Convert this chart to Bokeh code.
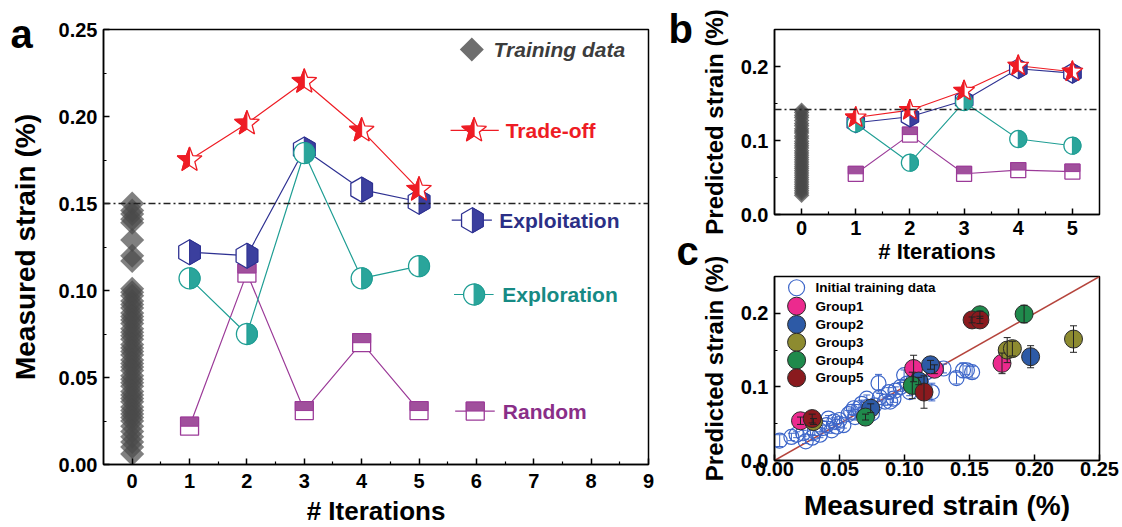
import math
from bokeh.plotting import figure
from bokeh.models import (Range1d, FixedTicker, NumeralTickFormatter, Label, Span, Slope,
                          ColumnDataSource, Whisker, TeeHead, Title)
from bokeh.layouts import row, column
from bokeh.embed import file_html
from bokeh.resources import INLINE

FONT = "Liberation Sans"

# ---------------- data ----------------
iterations = [1, 2, 3, 4, 5]

# panel a : measured strain (%)
a_tradeoff = [0.175, 0.196, 0.220, 0.192, 0.158]
a_exploit = [0.122, 0.120, 0.181, 0.158, 0.151]
a_explore = [0.107, 0.075, 0.179, 0.107, 0.114]
a_random = [0.022, 0.110, 0.031, 0.070, 0.031]
a_training = [0.150, 0.146, 0.144, 0.141, 0.139, 0.129, 0.120, 0.117, 0.101, 0.099,
              0.097, 0.094, 0.092, 0.090, 0.087, 0.085, 0.083, 0.081, 0.078, 0.076,
              0.074, 0.072, 0.069, 0.067, 0.065, 0.063, 0.060, 0.058, 0.056, 0.054,
              0.051, 0.049, 0.047, 0.045, 0.042, 0.040, 0.038, 0.036, 0.033, 0.031,
              0.029, 0.027, 0.025, 0.022, 0.019, 0.016, 0.013, 0.010, 0.006]
a_threshold = 0.15

# panel b : predicted strain (%)
b_tradeoff = [0.131, 0.141, 0.167, 0.201, 0.193]
b_exploit = [0.124, 0.132, 0.154, 0.197, 0.191]
b_explore = [0.123, 0.070, 0.152, 0.102, 0.093]
b_random = [0.055, 0.108, 0.055, 0.060, 0.058]
b_training = [0.141, 0.138, 0.134, 0.131, 0.127, 0.123, 0.120, 0.116, 0.113, 0.110,
              0.106, 0.103, 0.099, 0.096, 0.093, 0.090, 0.086, 0.083, 0.080, 0.077,
              0.074, 0.071, 0.068, 0.065, 0.062, 0.059, 0.056, 0.053, 0.050, 0.047,
              0.044, 0.041, 0.038, 0.035, 0.032, 0.029, 0.026]
b_threshold = 0.142

# panel c : initial training data (measured, predicted, error)
c_init_x = [0.004, 0.013, 0.017, 0.022, 0.024, 0.029, 0.031, 0.035, 0.037, 0.040,
            0.0415, 0.044, 0.046, 0.048, 0.050, 0.053, 0.057, 0.059, 0.061, 0.062,
            0.065, 0.067, 0.070, 0.071, 0.072, 0.075, 0.077, 0.080, 0.081, 0.085,
            0.088, 0.089, 0.0915, 0.093, 0.097, 0.0997, 0.102, 0.104, 0.107, 0.1095,
            0.1126, 0.117, 0.121, 0.130, 0.140, 0.145, 0.148, 0.152]
c_init_y = [0.027, 0.032, 0.035, 0.037, 0.026, 0.031, 0.039, 0.035, 0.044, 0.048,
            0.057, 0.041, 0.053, 0.046, 0.055, 0.048, 0.063, 0.066, 0.071, 0.059,
            0.071, 0.077, 0.066, 0.084, 0.073, 0.064, 0.075, 0.105, 0.086, 0.080,
            0.093, 0.080, 0.084, 0.095, 0.100, 0.116, 0.1045, 0.093, 0.109, 0.100,
            0.107, 0.120, 0.093, 0.125, 0.112, 0.1225, 0.1225, 0.120]
c_init_err = [0.008, 0.005, 0.004, 0.004, 0.003, 0.004, 0.005, 0.004, 0.004, 0.005,
              0.004, 0.004, 0.005, 0.004, 0.005, 0.004, 0.005, 0.004, 0.005, 0.004,
              0.005, 0.005, 0.004, 0.005, 0.005, 0.006, 0.005, 0.012, 0.005, 0.005,
              0.006, 0.004, 0.005, 0.005, 0.006, 0.007, 0.006, 0.005, 0.006, 0.006,
              0.007, 0.006, 0.012, 0.006, 0.008, 0.010, 0.006, 0.008]

group_names = ["Group1", "Group2", "Group3", "Group4", "Group5"]
group_meas = [[0.020, 0.107, 0.123, 0.175],
              [0.074, 0.111, 0.120, 0.197],
              [0.030, 0.179, 0.183, 0.230],
              [0.070, 0.106, 0.158, 0.192],
              [0.029, 0.115, 0.152, 0.158]]
group_pred = [[0.054, 0.125, 0.124, 0.132],
              [0.071, 0.108, 0.130, 0.141],
              [0.053, 0.150, 0.152, 0.165],
              [0.059, 0.102, 0.198, 0.199],
              [0.057, 0.093, 0.191, 0.191]]
group_err = [[0.005, 0.018, 0.006, 0.014],
             [0.006, 0.005, 0.006, 0.015],
             [0.004, 0.017, 0.010, 0.018],
             [0.004, 0.018, 0.005, 0.012],
             [0.006, 0.022, 0.004, 0.005]]

# ---------------- styles ----------------
C_TRADE, F_TRADE = "#ee1c24", "#ee1c24"
C_EXPLOIT, F_EXPLOIT = "#2e3192", "#3b3f9e"
C_EXPLORE, F_EXPLORE = "#1f9e94", "#2aa59b"
C_RANDOM, F_RANDOM = "#9b3a98", "#a0509c"
T_EXPLOIT, T_EXPLORE, T_RANDOM = "#2b2f86", "#168a84", "#8a2e88"
GROUP_COLORS = ["#ec2a8e", "#2d5aa6", "#8d8b30", "#1f8a4c", "#8a1a1e"]
INIT_COLOR = "#3d66c9"


def star_verts(R, r):
    pts = []
    for k in range(10):
        ang = math.pi / 2 + k * math.pi / 5
        rad = R if k % 2 == 0 else r
        pts.append((rad * math.cos(ang), rad * math.sin(ang)))
    return pts, pts[0:6]


def hex_verts(R):
    pts = [(R * math.cos(math.pi / 2 + k * math.pi / 3), R * math.sin(math.pi / 2 + k * math.pi / 3))
           for k in range(6)]
    return pts, [pts[0], pts[5], pts[4], pts[3]]


def circle_verts(r, n=40):
    pts = [(r * math.cos(2 * math.pi * k / n), r * math.sin(2 * math.pi * k / n)) for k in range(n)]
    half = [(r * math.cos(-math.pi / 2 + math.pi * k / (n // 2)),
             r * math.sin(-math.pi / 2 + math.pi * k / (n // 2))) for k in range(n // 2 + 1)]
    return pts, half


def square_verts(h):
    return [(-h, -h), (h, -h), (h, h), (-h, h)], [(-h, 0), (h, 0), (h, h), (-h, h)]


def place(xs, ys, verts, kx, ky):
    return ([[x + vx * kx for vx, vy in verts] for x in xs],
            [[y + vy * ky for vx, vy in verts] for y in ys])


def draw_markers(p, xs, ys, shape, color, fill, kx, ky):
    full, half = shape
    fx, fy = place(xs, ys, full, kx, ky)
    p.patches(fx, fy, fill_color="white", line_color=color, line_width=1.3)
    hx, hy = place(xs, ys, half, kx, ky)
    p.patches(hx, hy, fill_color=fill, line_color=color, line_width=1.0)


def style_axes(p, tick_px, title_px, label_standoff, title_standoff_x, title_standoff_y):
    for ax in (p.xaxis[0], p.yaxis[0]):
        ax.axis_line_width = 1.5
        ax.axis_line_color = "black"
        ax.major_tick_line_width = 1.5
        ax.minor_tick_line_width = 1.2
        ax.major_tick_in = 6
        ax.major_tick_out = 0
        ax.minor_tick_in = 3
        ax.minor_tick_out = 0
        ax.major_label_text_font = FONT
        ax.major_label_text_font_size = f"{tick_px}px"
        ax.major_label_text_font_style = "bold"
        ax.major_label_text_color = "black"
        ax.major_label_standoff = label_standoff
        ax.axis_label_text_font = FONT
        ax.axis_label_text_font_size = f"{title_px}px"
        ax.axis_label_text_font_style = "bold"
        ax.axis_label_text_color = "black"
    p.xaxis[0].axis_label_standoff = title_standoff_x
    p.yaxis[0].axis_label_standoff = title_standoff_y
    p.outline_line_color = "black"
    p.outline_line_width = 1.5
    p.xgrid.visible = False
    p.ygrid.visible = False
    p.background_fill_color = "white"
    p.border_fill_color = "white"


def add_label(p, x, y, text, size, color="black", style="bold", align="left", baseline="middle"):
    p.add_layout(Label(x=x, y=y, text=text, text_font=FONT, text_font_size=f"{size}px",
                       text_font_style=style, text_color=color, text_align=align,
                       text_baseline=baseline))


def panel_letter(text, offset, standoff):
    return Title(text=text, align="left", vertical_align="bottom", offset=offset,
                 standoff=standoff, text_font=FONT, text_font_size="40px",
                 text_font_style="bold", text_color="black")


# ---------------- panel a ----------------
A_FW, A_FH = 545, 435
ax_range = (-0.5, 9.0)
ay_range = (0.0, 0.25)
pa = figure(width=660, height=527, frame_width=A_FW, frame_height=A_FH,
            x_range=Range1d(*ax_range), y_range=Range1d(*ay_range),
            min_border_left=103, min_border_right=12, min_border_top=29, min_border_bottom=63,
            output_backend="svg", toolbar_location=None, x_axis_label="# Iterations",
            y_axis_label="Measured strain (%)", title=panel_letter("a", -93, -53))
pa.xaxis.ticker = FixedTicker(ticks=list(range(0, 10)), minor_ticks=[i + 0.5 for i in range(0, 9)])
pa.yaxis.ticker = FixedTicker(ticks=[0, 0.05, 0.10, 0.15, 0.20, 0.25],
                              minor_ticks=[0.025, 0.075, 0.125, 0.175, 0.225])
pa.yaxis.formatter = NumeralTickFormatter(format="0.00")
style_axes(pa, 20, 28, 6, 5, 15)
pa.xaxis[0].major_label_standoff = 9
pa.xaxis[0].axis_label_text_font_size = "26px"
akx = (ax_range[1] - ax_range[0]) / A_FW
aky = (ay_range[1] - ay_range[0]) / A_FH

pa.add_layout(Span(location=a_threshold, dimension="width", line_color="#222222",
                   line_width=1.5, line_dash="7 3 2 3"))
pa.scatter([0] * len(a_training), a_training, marker="square", angle=math.pi / 4, size=17,
           fill_color="#4a4a4a", fill_alpha=0.7, line_color=None)

for ys, col in ((a_random, C_RANDOM), (a_exploit, C_EXPLOIT), (a_explore, C_EXPLORE), (a_tradeoff, C_TRADE)):
    pa.line(iterations, ys, line_color=col, line_width=1.2)

A_SHAPES = {"star": star_verts(13, 5.5), "hex": hex_verts(12.5), "circle": circle_verts(10.5),
            "square": square_verts(9)}
draw_markers(pa, iterations, a_random, A_SHAPES["square"], C_RANDOM, F_RANDOM, akx, aky)
draw_markers(pa, iterations, a_exploit, A_SHAPES["hex"], C_EXPLOIT, F_EXPLOIT, akx, aky)
draw_markers(pa, iterations, a_explore, A_SHAPES["circle"], C_EXPLORE, F_EXPLORE, akx, aky)
draw_markers(pa, iterations, a_tradeoff, A_SHAPES["star"], C_TRADE, F_TRADE, akx, aky)

# legend of panel a (positions in data units of the panel)
leg_a = [
    # name, color, text color, shape, fill, y, line x0, x1, marker x, text x
    ("Trade-off", C_TRADE, C_TRADE, "star", F_TRADE, 0.192, 5.55, 6.39, 5.96, 6.51),
    ("Exploitation", C_EXPLOIT, T_EXPLOIT, "hex", F_EXPLOIT, 0.1404, 5.57, 6.27, 5.93, 6.40),
    ("Exploration", C_EXPLORE, T_EXPLORE, "circle", F_EXPLORE, 0.0977, 5.61, 6.30, 5.96, 6.45),
    ("Random", C_RANDOM, T_RANDOM, "square", F_RANDOM, 0.0307, 5.63, 6.32, 5.98, 6.46),
]
for name, col, tcol, shp, fill, ly, x0, x1, mx, tx in leg_a:
    pa.line([x0, x1], [ly, ly], line_color=col, line_width=1.2)
    draw_markers(pa, [mx], [ly], A_SHAPES[shp], col, fill, akx, aky)
    add_label(pa, tx, ly, name, 21, tcol)
pa.scatter([5.92], [0.2385], marker="square", angle=math.pi / 4, size=17,
           fill_color="#6e6e6e", line_color=None)
add_label(pa, 6.30, 0.2385, "Training data", 21, "#3c3c3c", style="bold italic")

# ---------------- panel b ----------------
B_FW, B_FH = 325, 185
bx_range = (-0.5, 5.5)
by_range = (0.0, 0.25)
pb = figure(width=462, height=262, frame_width=B_FW, frame_height=B_FH,
            x_range=Range1d(*bx_range), y_range=Range1d(*by_range),
            min_border_left=114, min_border_right=23, min_border_top=29, min_border_bottom=48,
            output_backend="svg", toolbar_location=None, x_axis_label="# Iterations",
            y_axis_label="Predicted strain (%)", title=panel_letter("b", -106, -43))
pb.xaxis.ticker = FixedTicker(ticks=list(range(0, 6)), minor_ticks=[i + 0.5 for i in range(0, 5)])
pb.yaxis.ticker = FixedTicker(ticks=[0, 0.1, 0.2], minor_ticks=[0.05, 0.15])
pb.yaxis.formatter = NumeralTickFormatter(format="0.0")
style_axes(pb, 20, 24, 6, 1, 10)
pb.xaxis[0].axis_label_text_font_size = "22px"
bkx = (bx_range[1] - bx_range[0]) / B_FW
bky = (by_range[1] - by_range[0]) / B_FH

pb.add_layout(Span(location=b_threshold, dimension="width", line_color="#222222",
                   line_width=1.5, line_dash="7 3 2 3"))
pb.scatter([0] * len(b_training), b_training, marker="square", angle=math.pi / 4, size=11,
           fill_color="#4a4a4a", fill_alpha=0.75, line_color=None)
for ys, col in ((b_random, C_RANDOM), (b_exploit, C_EXPLOIT), (b_explore, C_EXPLORE), (b_tradeoff, C_TRADE)):
    pb.line(iterations, ys, line_color=col, line_width=1.1)
B_SHAPES = {"star": star_verts(11, 4.6), "hex": hex_verts(10), "circle": circle_verts(8.5),
            "square": square_verts(7.5)}
draw_markers(pb, iterations, b_random, B_SHAPES["square"], C_RANDOM, F_RANDOM, bkx, bky)
draw_markers(pb, iterations, b_exploit, B_SHAPES["hex"], C_EXPLOIT, F_EXPLOIT, bkx, bky)
draw_markers(pb, iterations, b_explore, B_SHAPES["circle"], C_EXPLORE, F_EXPLORE, bkx, bky)
draw_markers(pb, iterations, b_tradeoff, B_SHAPES["star"], C_TRADE, F_TRADE, bkx, bky)

# ---------------- panel c ----------------
C_FW, C_FH = 325, 184
cx_range = (0.0, 0.25)
cy_range = (0.0, 0.25)
C_OVERLAP = 44  # canvas of panel c overlaps the bottom of panel b (transparent border)
pc = figure(width=462, height=309, frame_width=C_FW, frame_height=C_FH,
            x_range=Range1d(*cx_range), y_range=Range1d(*cy_range),
            min_border_left=114, min_border_right=23, min_border_top=54, min_border_bottom=71,
            output_backend="svg", toolbar_location=None, x_axis_label="Measured strain (%)",
            y_axis_label="Predicted strain (%)", title=panel_letter("c", -98, 7),
            margin=(-C_OVERLAP, 0, 0, 0))
pc.xaxis.ticker = FixedTicker(ticks=[0, 0.05, 0.10, 0.15, 0.20, 0.25])
pc.yaxis.ticker = FixedTicker(ticks=[0, 0.1, 0.2], minor_ticks=[0.05, 0.15])
pc.xaxis.formatter = NumeralTickFormatter(format="0.00")
pc.yaxis.formatter = NumeralTickFormatter(format="0.0")
style_axes(pc, 20, 28, 6, 11, 10)
pc.yaxis[0].axis_label_text_font_size = "24px"
pc.xaxis[0].major_label_standoff = 1
pc.border_fill_color = None

pc.add_layout(Slope(gradient=1, y_intercept=0, line_color="#b5443c", line_width=1.5, level="underlay"))

init_src = ColumnDataSource(dict(x=c_init_x, y=c_init_y,
                                 lo=[y - e for y, e in zip(c_init_y, c_init_err)],
                                 hi=[y + e for y, e in zip(c_init_y, c_init_err)]))
pc.add_layout(Whisker(source=init_src, base="x", lower="lo", upper="hi", dimension="height",
                      line_color=INIT_COLOR, line_width=1.0, level="underlay",
                      lower_head=TeeHead(size=7, line_color=INIT_COLOR, line_width=1.0),
                      upper_head=TeeHead(size=7, line_color=INIT_COLOR, line_width=1.0)))
pc.scatter("x", "y", source=init_src, size=15, fill_color=None, line_color=INIT_COLOR,
           line_width=1.2)

for gx, gy, ge, gcol in zip(group_meas, group_pred, group_err, GROUP_COLORS):
    src = ColumnDataSource(dict(x=gx, y=gy, lo=[y - e for y, e in zip(gy, ge)],
                                hi=[y + e for y, e in zip(gy, ge)]))
    pc.scatter("x", "y", source=src, size=18, fill_color=gcol, line_color="#2a2a2a", line_width=1.0)
    pc.add_layout(Whisker(source=src, base="x", lower="lo", upper="hi", dimension="height",
                          line_color="#222222", line_width=1.0, level="annotation",
                          lower_head=TeeHead(size=7, line_color="#222222", line_width=1.0),
                          upper_head=TeeHead(size=7, line_color="#222222", line_width=1.0)))

# legend of panel c
LEG_C_MX, LEG_C_TX = 0.017, 0.0316
LEG_C_Y = [0.2347, 0.2097, 0.1848, 0.1607, 0.1363, 0.1124]
pc.scatter([LEG_C_MX], [LEG_C_Y[0]], size=16, fill_color=None, line_color=INIT_COLOR, line_width=1.2)
add_label(pc, LEG_C_TX, LEG_C_Y[0], "Initial training data", 13.5)
for name, gcol, ly in zip(group_names, GROUP_COLORS, LEG_C_Y[1:]):
    pc.scatter([LEG_C_MX], [ly], size=18, fill_color=gcol, line_color="#2a2a2a", line_width=1.0)
    add_label(pc, LEG_C_TX, ly, name, 13.5)

layout = row(pa, column(pb, pc))
open("out.html", "w").write(file_html(layout, INLINE))
